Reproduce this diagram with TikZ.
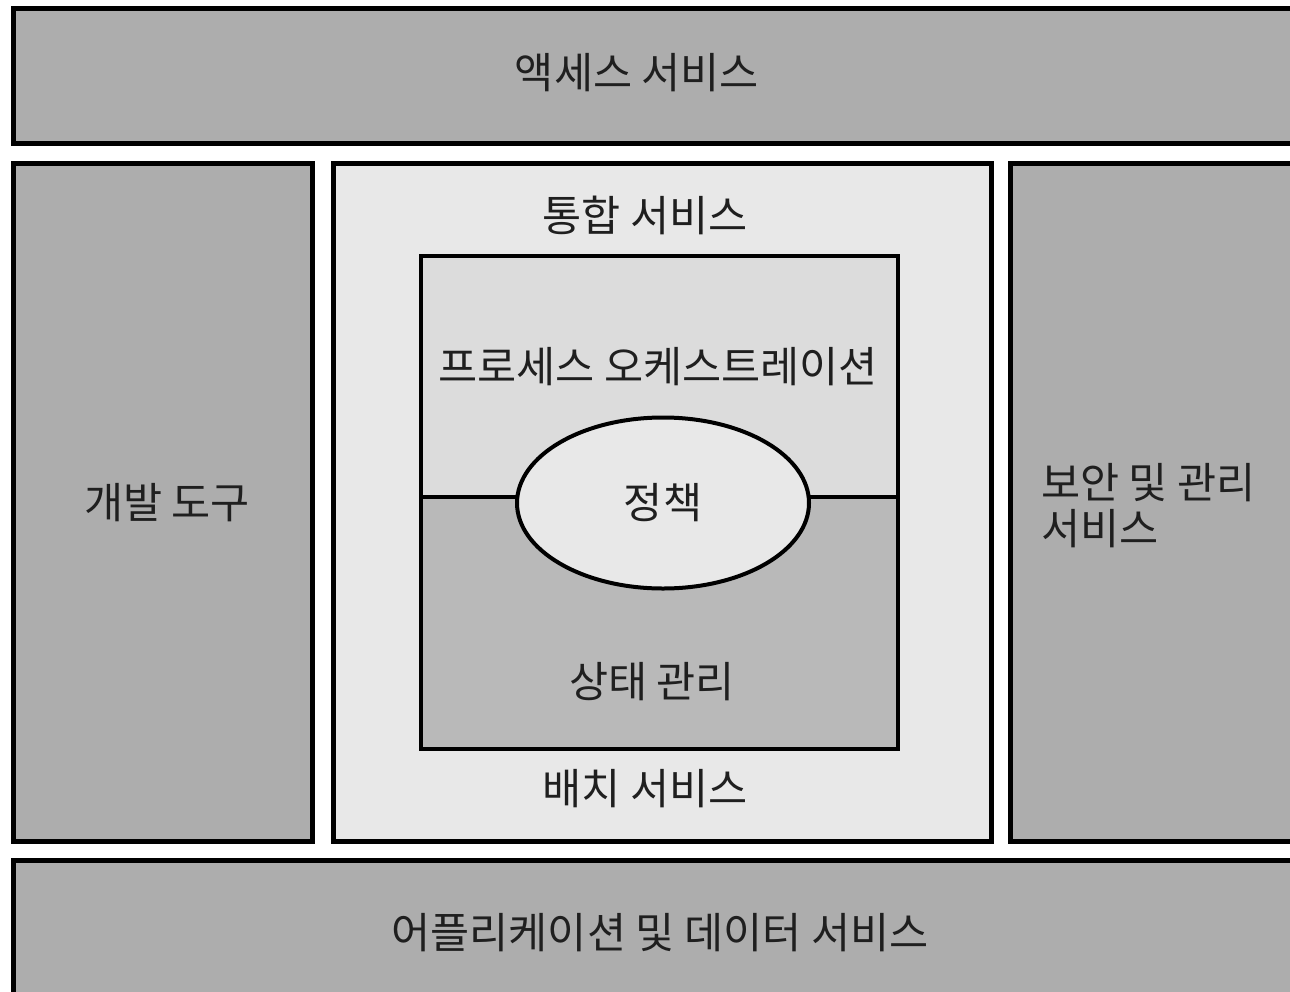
\documentclass[tikz,border=0pt]{standalone}
\usepackage{fontspec}
\setmainfont{Noto Sans CJK KR}
\usetikzlibrary{shapes.geometric}
\definecolor{darkbox}{HTML}{ADADAD}
\definecolor{lightbox}{HTML}{E8E8E8}
\definecolor{upperbox}{HTML}{DCDCDC}
\definecolor{lowerbox}{HTML}{B9B9B9}
\tikzset{
  panel/.style={draw=black, line width=5pt, fill=darkbox},
  label/.style={font=\fontsize{42.5}{46}\selectfont, text=black!88, inner sep=0pt},
}
\begin{document}
\begin{tikzpicture}[x=1pt,y=-1pt]
\useasboundingbox (0,0) rectangle (1290,991);
% top
\draw[panel] (13,8) rectangle (1300,143);
\node[label] (access) at (637,73) {액세스 서비스};
% left
\draw[panel] (13,163) rectangle (312,841);
\node[label] (dev) at (167,503) {개발 도구};
% right
\draw[panel] (1010,163) rectangle (1300,841);
\node[label, align=left, anchor=west] (sec) at (1041,506) {보안 및 관리\\서비스};
% bottom
\draw[panel] (13,860) rectangle (1300,1000);
\node[label] (appdata) at (660,933) {어플리케이션 및 데이터 서비스};
% center
\draw[panel, fill=lightbox] (333,163) rectangle (991,841);
\node[label] (integ) at (645,215) {통합 서비스};
\node[label] (deploy) at (645,789) {배치 서비스};
% inner
\fill[upperbox] (421,256) rectangle (898,497);
\fill[lowerbox] (421,497) rectangle (898,749);
\coordinate (divL) at (421,497);
\coordinate (divR) at (898,497);
\draw[line width=4pt] (divL) -- (divR);
\node[draw=black, line width=4pt, fill=lightbox, ellipse, minimum width=292pt, minimum height=171pt, inner sep=0pt] (policy) at (663,503) {};
\draw[line width=4pt] (421,256) rectangle (898,749);
\node[label] (proc) at (658,367) {프로세스 오케스트레이션};
\node[label] at (policy.center) {정책};
\node[label] (state) at (652,682) {상태 관리};
\end{tikzpicture}
\end{document}
